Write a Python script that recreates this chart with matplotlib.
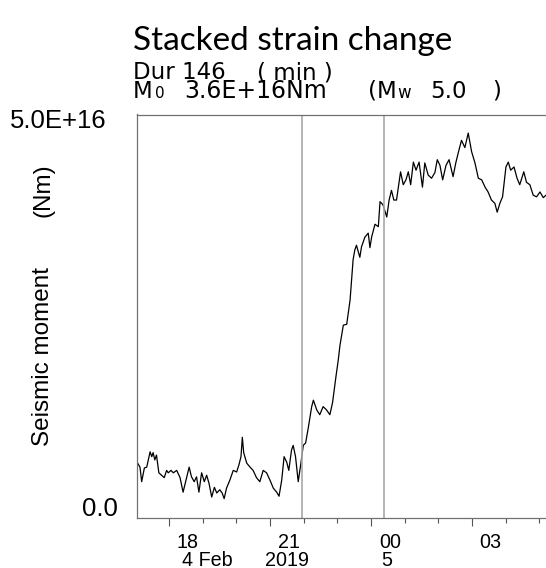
import matplotlib
matplotlib.use("Agg")
import matplotlib.pyplot as plt
from matplotlib.ticker import FixedLocator, NullFormatter

# ---------------- data ----------------
# time in hours since 2019-02-04 00:00 (UT), stacked seismic moment in 1e16 Nm
time_h = [17.07, 17.14, 17.19, 17.27, 17.34, 17.44, 17.49, 17.53, 17.58, 17.63,
          17.70, 17.78, 17.86, 17.93, 17.98, 18.06, 18.13, 18.23, 18.33, 18.42,
          18.53, 18.60, 18.67, 18.75, 18.82, 18.89, 18.97, 19.05, 19.12, 19.19,
          19.27, 19.35, 19.42, 19.51, 19.58, 19.64, 19.71, 19.81, 19.91, 20.01,
          20.08, 20.14, 20.18, 20.22, 20.31, 20.41, 20.50, 20.60, 20.70, 20.80,
          20.90, 21.00, 21.10, 21.20, 21.27, 21.35, 21.42, 21.50, 21.56, 21.64,
          21.69, 21.76, 21.84, 21.92, 21.99, 22.06, 22.14, 22.24, 22.29, 22.39,
          22.48, 22.58, 22.68, 22.78, 22.86, 22.96, 23.03, 23.08, 23.18, 23.28,
          23.38, 23.47, 23.52, 23.57, 23.67, 23.72, 23.82, 23.92, 23.97, 24.02,
          24.12, 24.22, 24.27, 24.36, 24.47, 24.54, 24.61, 24.68, 24.76, 24.88,
          24.96, 25.04, 25.11, 25.18, 25.26, 25.34, 25.43, 25.53, 25.60, 25.70,
          25.80, 25.90, 25.97, 26.05, 26.13, 26.23, 26.32, 26.44, 26.52, 26.59,
          26.69, 26.79, 26.89, 26.99, 27.09, 27.19, 27.29, 27.39, 27.48, 27.58,
          27.68, 27.75, 27.83, 27.91, 28.01, 28.08, 28.15, 28.25, 28.34, 28.42,
          28.54, 28.62, 28.72, 28.82, 28.92, 29.02, 29.12, 29.20]
moment_e16 = [0.68, 0.63, 0.45, 0.62, 0.63, 0.82, 0.76, 0.81, 0.72, 0.78,
              0.56, 0.53, 0.50, 0.59, 0.56, 0.59, 0.56, 0.59, 0.50, 0.32,
              0.51, 0.63, 0.51, 0.45, 0.51, 0.32, 0.56, 0.45, 0.53, 0.43,
              0.26, 0.38, 0.31, 0.35, 0.31, 0.24, 0.37, 0.47, 0.59, 0.57,
              0.66, 0.76, 1.00, 0.81, 0.68, 0.63, 0.59, 0.50, 0.45, 0.59,
              0.56, 0.47, 0.37, 0.32, 0.27, 0.47, 0.76, 0.69, 0.59, 0.84,
              0.90, 0.76, 0.45, 0.68, 0.90, 0.93, 1.12, 1.38, 1.46, 1.34,
              1.28, 1.38, 1.34, 1.28, 1.43, 1.75, 1.96, 2.14, 2.39, 2.40,
              2.70, 3.20, 3.32, 3.38, 3.23, 3.36, 3.48, 3.53, 3.35, 3.48,
              3.64, 3.61, 3.92, 3.88, 3.73, 3.94, 4.06, 3.94, 3.94, 4.29,
              4.13, 4.19, 4.29, 4.13, 4.41, 4.31, 4.41, 4.10, 4.40, 4.25,
              4.21, 4.28, 4.44, 4.37, 4.19, 4.37, 4.44, 4.23, 4.40, 4.52,
              4.68, 4.59, 4.77, 4.54, 4.40, 4.21, 4.19, 4.10, 4.04, 3.94,
              3.90, 3.79, 3.90, 3.98, 4.35, 4.41, 4.31, 4.35, 4.21, 4.13,
              4.29, 4.16, 4.13, 4.00, 3.98, 4.04, 3.97, 4.00]

event_start_h = 21.94       # start of stacking window
duration_min = 146
m0_label = "3.6E+16Nm"
mw_label = "5.0"

hour_labels = ["18", "21", "00", "03"]
hour_label_pos = [18, 21, 24, 27]
date_labels = ["4 Feb", "2019", "5"]
date_label_pos = [19.13, 21.50, 24.47]

y_max = 5.0e16
x_min, x_max = 17.06, 29.20

# ---------------- figure ----------------
W, H = 546, 568
fig = plt.figure(figsize=(W / 100, H / 100), dpi=100)

def fx(px):
    return px / W

def fy(py):
    return 1 - py / H

AX_BOTTOM, AX_TOP = 518, 114.5
ax = fig.add_axes([fx(137.3), fy(AX_BOTTOM), 1 - fx(137.3), fy(AX_TOP) - fy(AX_BOTTOM)])
ax.set_xlim(x_min, x_max)
ax.set_ylim(0, y_max)

ax.plot(time_h, [m * 1e16 for m in moment_e16], color="black", lw=0.9)
for t in (event_start_h, event_start_h + duration_min / 60):
    ax.axvline(t, color="#a8a8a8", lw=1.2)

for side in ("left", "top", "bottom"):
    ax.spines[side].set_color("#707070")
    ax.spines[side].set_linewidth(0.9)
ax.spines["right"].set_visible(False)

ax.xaxis.set_major_locator(FixedLocator(hour_label_pos))
ax.xaxis.set_minor_locator(FixedLocator(list(range(18, 30))))
ax.xaxis.set_major_formatter(NullFormatter())
ax.tick_params(axis="x", which="major", direction="out", length=6, width=0.8, color="#555555")
ax.tick_params(axis="x", which="minor", direction="out", length=3.5, width=0.8, color="#555555")
ax.set_yticks([])

def ay(py):
    return (AX_BOTTOM - py) / (AX_BOTTOM - AX_TOP)

lab = "Liberation Sans"
tr = ax.get_xaxis_transform()
for lbl, h in zip(hour_labels, hour_label_pos):
    ax.text(h + 0.56, ay(542), lbl, transform=tr,
            ha="center", va="center", fontsize=14.2, family=lab)
for lbl, h in zip(date_labels, date_label_pos):
    ax.text(h, ay(566.5), lbl, transform=tr,
            ha="center", va="baseline", fontsize=14.2, family=lab)

# y-axis annotations
fig.text(fx(107), fy(121), "5.0E+16", ha="right", va="center", fontsize=18.5, family=lab)
fig.text(fx(118), fy(509), "0.0", ha="right", va="center", fontsize=18.5, family=lab)
fig.text(fx(43.5), fy(356), "Seismic moment", rotation=90, ha="center", va="center",
         fontsize=17.5, family=lab)
fig.text(fx(43.5), fy(190), "(Nm)", rotation=90, ha="center", va="center",
         fontsize=17.5, family=lab)

# titles
fig.text(fx(133), fy(50), "Stacked strain change", ha="left", va="baseline",
         fontsize=24, family="Lato")
sub = "DejaVu Sans"
fs = 16.5
fig.text(fx(133), fy(79), f"Dur {duration_min}", ha="left", va="baseline", fontsize=fs, family=sub)
fig.text(fx(257), fy(79), "( min )", ha="left", va="baseline", fontsize=fs, family=sub)
fig.text(fx(133), fy(97.5), "M", ha="left", va="baseline", fontsize=fs, family=sub)
fig.text(fx(155), fy(97.5), "0", ha="left", va="baseline", fontsize=11, family=sub)
fig.text(fx(184), fy(97.5), m0_label, ha="left", va="baseline", fontsize=17, family=sub)
fig.text(fx(368), fy(97.5), "(", ha="left", va="baseline", fontsize=fs, family=sub)
fig.text(fx(377), fy(97.5), "M", ha="left", va="baseline", fontsize=fs, family=sub)
fig.text(fx(397), fy(97.5), "w", ha="left", va="baseline", fontsize=12, family=sub)
fig.text(fx(430), fy(97.5), mw_label, ha="left", va="baseline", fontsize=fs, family=sub)
fig.text(fx(492), fy(97.5), ")", ha="left", va="baseline", fontsize=fs, family=sub)

fig.savefig("out.png", dpi=100)
